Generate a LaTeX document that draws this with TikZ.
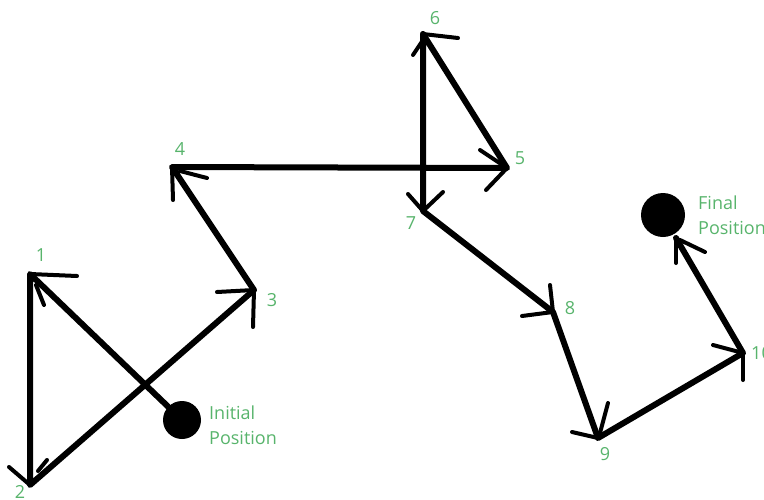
\documentclass[tikz,border=0pt]{standalone}
\usepackage{fontspec}
\setmainfont{Open Sans}
\definecolor{lbl}{RGB}{88,180,108}
\begin{document}
\begin{tikzpicture}[x=1pt,y=-1pt,
  pathline/.style={line width=6pt,line cap=round,line join=round},
  barb/.style={line width=4pt,line cap=round},
  dot/.style={circle,fill=black,inner sep=0pt},
  lab/.style={text=lbl,font=\fontsize{18}{25}\selectfont,inner sep=0pt},
  txt/.style={lab,align=left,anchor=west}]
\useasboundingbox (0,0) rectangle (764,499);
% points
\node[dot,minimum size=38pt] (ini) at (182,420) {};
\node[dot,minimum size=44pt] (fin) at (663,215) {};
\coordinate (p1) at (30,274);
\coordinate (p2) at (30,485);
\coordinate (p3) at (254,290);
\coordinate (p4) at (172,167);
\coordinate (p5) at (507,168);
\coordinate (p6) at (423,34);
\coordinate (p7) at (423,211);
\coordinate (p8) at (553,312);
\coordinate (p9) at (598,438);
\coordinate (p10) at (743,353);
\coordinate (fa) at (676,238);
% path
\draw[pathline] (ini) -- (p1) -- (p2) -- (p3) -- (p4) -- (p5) -- (p6) -- (p7) -- (p8) -- (p9) -- (p10) -- (fa);
% barbs (hand drawn arrowheads)
\draw[barb] (p1) -- ++(47,2);
\draw[barb] ([shift={(6,11)}]p1) -- ++(8,20);
\draw[barb] (p2) -- ++(-21,-18);
\draw[barb] ([shift={(8,-14)}]p2) -- ++(9,-11);
\draw[barb] (p3) -- ++(-37,2);
\draw[barb] (p3) -- ++(-1,37);
\draw[barb] (p4) -- ++(1,33);
\draw[barb] ([shift={(8,4)}]p4) -- ++(27,7);
\draw[barb] (p5) -- ++(-27,-18);
\draw[barb] (p5) -- ++(-21,22);
\draw[barb] (p6) -- ++(35,4);
\draw[barb] ([shift={(0,6)}]p6) -- ++(-10,15);
\draw[barb] (p7) -- ++(-15,-17);
\draw[barb] (p7) -- ++(20,-19);
\draw[barb] (p8) -- ++(-3,-27);
\draw[barb] (p8) -- ++(-31,4);
\draw[barb] (p9) -- ++(-26,-6);
\draw[barb] ([shift={(2,-5)}]p9) -- ++(8,-30);
\draw[barb] (p10) -- ++(-30,-8);
\draw[barb] (p10) -- ++(0,27);
\draw[barb] (fa) -- ++(0,25);
\draw[barb] ([shift={(4,2)}]fa) -- ++(25,12);
% labels
\node[lab] (l1) at (41,255) {1};
\node[lab] (l2) at (20,492) {2};
\node[lab] (l3) at (272,300) {3};
\node[lab] (l4) at (180,149) {4};
\node[lab] (l5) at (520,158) {5};
\node[lab] (l6) at (435,18) {6};
\node[lab] (l7) at (411,223) {7};
\node[lab] (l8) at (570,308) {8};
\node[lab] (l9) at (605,454) {9};
\node[lab,anchor=west] (l10) at (751,353) {10};
\node[txt] (tini) at (209,425) {Initial\\Position};
\node[txt] (tfin) at (698,215) {Final\\Position};
\end{tikzpicture}
\end{document}
